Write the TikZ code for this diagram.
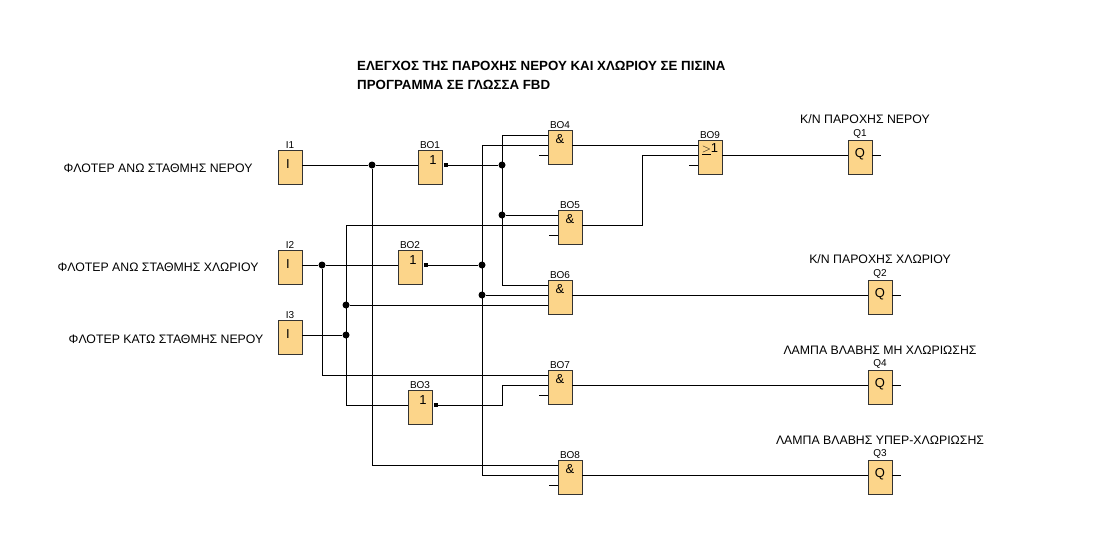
\documentclass[tikz,border=0pt]{standalone}
\usepackage{fontspec}
\setmainfont{Liberation Sans}
\usetikzlibrary{calc}
\definecolor{blkfill}{RGB}{252,213,138}
\begin{document}
\begin{tikzpicture}[x=1pt,y=-1pt,
  blk/.style={draw=black!80,fill=blkfill,minimum width=24pt,minimum height=34pt,inner sep=0pt,line width=0.8pt},
  lbl/.style={font=\fontsize{10}{10}\selectfont,inner sep=1pt},
  sym/.style={font=\fontsize{13}{13}\selectfont,inner sep=0pt},
  txt/.style={font=\fontsize{12.3}{13}\selectfont,inner sep=0pt},
  w/.style={line width=0.8pt},
  dot/.style={circle,fill=black,inner sep=0pt,minimum size=7pt},
  sq/.style={rectangle,fill=black,inner sep=0pt,minimum size=4.5pt}]
\useasboundingbox (0,0) rectangle (1102,558);
% title
\node[txt,font=\bfseries\fontsize{13.3}{14}\selectfont,anchor=west] (t1) at (357,66) {ΕΛΕΓΧΟΣ ΤΗΣ ΠΑΡΟΧΗΣ ΝΕΡΟΥ ΚΑΙ ΧΛΩΡΙΟΥ ΣΕ ΠΙΣΙΝΑ};
\node[txt,font=\bfseries\fontsize{13.3}{14}\selectfont,anchor=west] (t2) at (357,85) {ΠΡΟΓΡΑΜΜΑ ΣΕ ΓΛΩΣΣΑ FBD};
% left labels
\node[txt] (l1) at (158,168) {ΦΛΟΤΕΡ ΑΝΩ ΣΤΑΘΜΗΣ ΝΕΡΟΥ};
\node[txt] (l2) at (158,267) {ΦΛΟΤΕΡ ΑΝΩ ΣΤΑΘΜΗΣ ΧΛΩΡΙΟΥ};
\node[txt] (l3) at (166,339) {ΦΛΟΤΕΡ ΚΑΤΩ ΣΤΑΘΜΗΣ ΝΕΡΟΥ};
% output labels
\node[txt] (o1) at (865,119) {Κ/Ν ΠΑΡΟΧΗΣ ΝΕΡΟΥ};
\node[txt] (o2) at (880,259) {Κ/Ν ΠΑΡΟΧΗΣ ΧΛΩΡΙΟΥ};
\node[txt] (o3) at (880,350) {ΛΑΜΠΑ ΒΛΑΒΗΣ ΜΗ ΧΛΩΡΙΩΣΗΣ};
\node[txt] (o4) at (880,440) {ΛΑΜΠΑ ΒΛΑΒΗΣ ΥΠΕΡ-ΧΛΩΡΙΩΣΗΣ};
% blocks
\foreach \n/\x/\y/\s/\dx/\dy in {I1/290/167/I/-2/14, I2/290/267/I/-2/14, I3/290/337/I/-2/14,
  BO1/430/167/1/3/10, BO2/410/267/1/3/10, BO3/420/407/1/3/10,
  BO4/560/147/\&/0/9, BO5/570/227/\&/0/9, BO6/560/297/\&/0/9, BO7/560/387/\&/0/9, BO8/570/477/\&/0/9,
  BO9/710/157/{$\underline{>}$1}/0/10,
  Q1/860/157/Q/0/15, Q2/880/297/Q/0/15, Q4/880/387/Q/0/15, Q3/880/477/Q/0/15}{
  \node[blk,label={[lbl]above:\n}] (\n) at (\x,\y) {};
  \node[sym] (\n s) at ($(\n.north)+(\dx,\dy)$) {\s};
}
% output squares
\node[sq] (s1) at (446,165) {};
\node[sq] (s2) at (426,265) {};
\node[sq] (s3) at (436,405) {};
% junction dots
\node[dot] (d1) at (372,165) {};
\node[dot] (d2) at (502,165) {};
\node[dot] (d3) at (502,215) {};
\node[dot] (d4) at (322,265) {};
\node[dot] (d5) at (482,265) {};
\node[dot] (d6) at (482,295) {};
\node[dot] (d7) at (346,335) {};
\node[dot] (d8) at (346,305) {};
% coordinates
\coordinate (c1) at (372,465);
\coordinate (c2) at (502,135);
\coordinate (c3) at (502,285);
\coordinate (c4) at (322,375);
\coordinate (c5) at (482,145);
\coordinate (c6) at (482,475);
\coordinate (c7) at (346,225);
\coordinate (c8) at (346,405);
\coordinate (c9) at (502,385);
\coordinate (c10) at (642,225);
\coordinate (c11) at (642,155);
% wires
\draw[w] (I1.east |- 0,165) -- (d1) -- (BO1.west |- 0,165);
\draw[w] (s1) -- (d2);
\draw[w] (d1) -- (c1) -- (BO8.west |- c1);
\draw[w] (c2) -- (c3) -- (BO6.west |- c3);
\draw[w] (c2) -- (BO4.west |- c2);
\draw[w] (d3) -- (BO5.west |- d3);
\draw[w] (I2.east |- 0,265) -- (d4) -- (BO2.west |- 0,265);
\draw[w] (s2) -- (d5);
\draw[w] (d4) -- (c4) -- (BO7.west |- c4);
\draw[w] (c5) -- (c6) -- (BO8.west |- c6);
\draw[w] (c5) -- (BO4.west |- c5);
\draw[w] (d6) -- (BO6.west |- d6);
\draw[w] (I3.east |- 0,335) -- (d7);
\draw[w] (c7) -- (c8) -- (BO3.west |- c8);
\draw[w] (c7) -- (BO5.west |- c7);
\draw[w] (d8) -- (BO6.west |- d8);
\draw[w] (s3) -- (c9 |- s3) -- (c9) -- (BO7.west |- c9);
\draw[w] (BO4.east |- 0,145) -- (BO9.west |- 0,145);
\draw[w] (BO5.east |- c10) -- (c10) -- (c11) -- (BO9.west |- c11);
\draw[w] (BO9.east |- 0,155) -- (Q1.west |- 0,155);
\draw[w] (BO6.east |- 0,295) -- (Q2.west |- 0,295);
\draw[w] (BO7.east |- 0,385) -- (Q4.west |- 0,385);
\draw[w] (BO8.east |- 0,475) -- (Q3.west |- 0,475);
% stubs
\foreach \b/\y in {BO4/155, BO5/235, BO7/395, BO8/485, BO9/165}{
  \draw[w] (\b.west |- 0,\y) -- ++(-9,0);
}
\foreach \b/\y in {Q1/155, Q2/295, Q4/385, Q3/475}{
  \draw[w] (\b.east |- 0,\y) -- ++(9,0);
}
\end{tikzpicture}
\end{document}
